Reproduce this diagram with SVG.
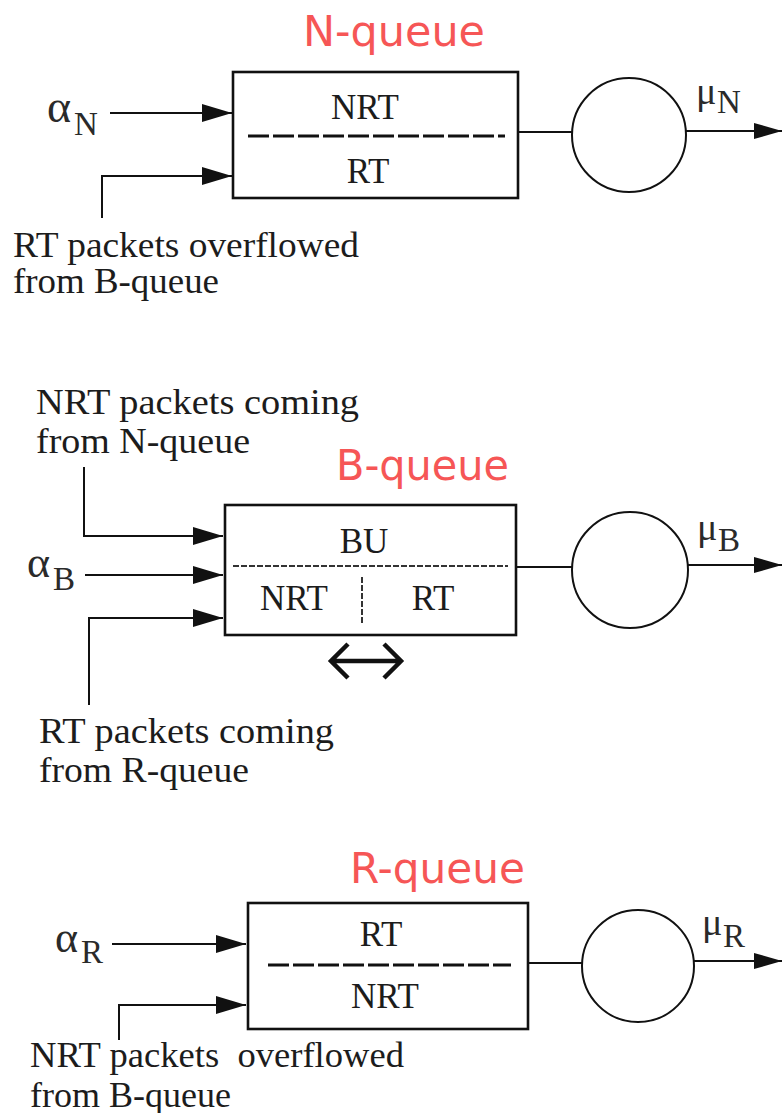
<svg xmlns="http://www.w3.org/2000/svg" width="783" height="1113" viewBox="0 0 783 1113">
<style>
.t{font-family:"Liberation Serif","Times New Roman",serif;font-size:35px;fill:#1c1c1c}
.c{text-anchor:middle}
.g{font-family:"Liberation Serif","Times New Roman",serif;fill:#2a2a2a}
.title{font-family:"Comic Sans MS","DejaVu Sans",sans-serif;font-size:43px;fill:#f65656}
.box{fill:#fff;stroke:#111;stroke-width:2.6}
.srv{fill:#fff;stroke:#111;stroke-width:2}
.ln{fill:none;stroke:#111;stroke-width:2}
.dash{fill:none;stroke:#111;stroke-width:3;stroke-dasharray:21 4}
.fine{fill:none;stroke:#333;stroke-width:2;stroke-dasharray:6 2}
</style>
<defs>
<marker id="ah" markerUnits="userSpaceOnUse" markerWidth="30" markerHeight="18" refX="30" refY="9" orient="auto">
<path d="M0,0 L30,9 L0,18 z" fill="#111"/>
</marker>
<marker id="ao" markerUnits="userSpaceOnUse" markerWidth="28" markerHeight="16" refX="28" refY="8" orient="auto">
<path d="M0,0 L28,8 L0,16 z" fill="#111"/>
</marker>
</defs>

<g id="nqueue">
<text class="title" x="303" y="46" textLength="182" lengthAdjust="spacingAndGlyphs">N-queue</text>
<rect class="box" x="233" y="72" width="285" height="126"/>
<line class="dash" x1="248" y1="136" x2="505" y2="136"/>
<text class="t c" x="365" y="119">NRT</text>
<text class="t c" x="368" y="183">RT</text>
</g>
<g id="nserver"><circle class="srv" cx="629" cy="135" r="57"/></g>
<g id="nlabels">
<text class="g" x="47" y="122" font-size="46">α</text>
<text class="g" x="74" y="135" font-size="33">N</text>
<text class="g" x="696" y="104" font-size="38">μ</text>
<text class="g" x="717" y="113" font-size="33">N</text>
<text class="t" x="13" y="257" textLength="346" lengthAdjust="spacingAndGlyphs">RT packets overflowed</text>
<text class="t" x="13" y="293" textLength="206" lengthAdjust="spacingAndGlyphs">from B-queue</text>
</g>

<g id="bqueue">
<text class="title" x="336" y="480" textLength="173" lengthAdjust="spacingAndGlyphs">B-queue</text>
<rect class="box" x="225" y="505" width="291" height="130"/>
<line class="fine" x1="233" y1="566" x2="508" y2="566"/>
<line class="fine" x1="362" y1="577" x2="362" y2="623"/>
<text class="t c" x="364" y="553">BU</text>
<text class="t c" x="294" y="610">NRT</text>
<text class="t c" x="433" y="610">RT</text>
</g>
<g id="bserver"><circle class="srv" cx="630" cy="570" r="58"/></g>
<g id="blabels">
<text class="g" x="27" y="577" font-size="44">α</text>
<text class="g" x="53" y="590" font-size="33">B</text>
<text class="g" x="697" y="540" font-size="38">μ</text>
<text class="g" x="718" y="551" font-size="33">B</text>
<text class="t" x="36" y="414" textLength="323" lengthAdjust="spacingAndGlyphs">NRT packets coming</text>
<text class="t" x="36" y="453" textLength="214" lengthAdjust="spacingAndGlyphs">from N-queue</text>
<text class="t" x="39" y="743" textLength="295" lengthAdjust="spacingAndGlyphs">RT packets coming</text>
<text class="t" x="39" y="782" textLength="210" lengthAdjust="spacingAndGlyphs">from R-queue</text>
</g>

<g id="rqueue">
<text class="title" x="350" y="883" textLength="175" lengthAdjust="spacingAndGlyphs">R-queue</text>
<rect class="box" x="248" y="903" width="280" height="126"/>
<line class="dash" x1="268" y1="965" x2="511" y2="965"/>
<text class="t c" x="381" y="946">RT</text>
<text class="t c" x="385" y="1008">NRT</text>
</g>
<g id="rserver"><circle class="srv" cx="638" cy="966" r="56"/></g>
<g id="rlabels">
<text class="g" x="55" y="952" font-size="44">α</text>
<text class="g" x="81" y="963" font-size="33">R</text>
<text class="g" x="702" y="935" font-size="38">μ</text>
<text class="g" x="723" y="947" font-size="33">R</text>
<text class="t" x="30" y="1067" textLength="374" lengthAdjust="spacingAndGlyphs" xml:space="preserve">NRT packets  overflowed</text>
<text class="t" x="30" y="1107" textLength="201" lengthAdjust="spacingAndGlyphs">from B-queue</text>
</g>

<g id="connectors">
<path class="ln" d="M110,113 L232,113" marker-end="url(#ah)"/>
<path class="ln" d="M102,218 L102,176 L232,176" marker-end="url(#ah)"/>
<path class="ln" d="M518,132 L572,132"/>
<path class="ln" d="M686,131 L782,131" marker-end="url(#ao)"/>

<path class="ln" d="M84,467 L84,536 L223,536" marker-end="url(#ah)"/>
<path class="ln" d="M85,575 L223,575" marker-end="url(#ah)"/>
<path class="ln" d="M89,705 L89,618 L223,618" marker-end="url(#ah)"/>
<path class="ln" d="M516,567 L572,567"/>
<path class="ln" d="M688,565 L782,565" marker-end="url(#ao)"/>
<path fill="none" stroke="#111" stroke-width="4.5" d="M331,661 L401,661 M348,644 L331,661 L348,678 M384,644 L401,661 L384,678"/>

<path class="ln" d="M112,944 L246,944" marker-end="url(#ah)"/>
<path class="ln" d="M119,1040 L119,1005 L246,1005" marker-end="url(#ah)"/>
<path class="ln" d="M528,963 L582,963"/>
<path class="ln" d="M694,961 L782,961" marker-end="url(#ao)"/>
</g>
</svg>
